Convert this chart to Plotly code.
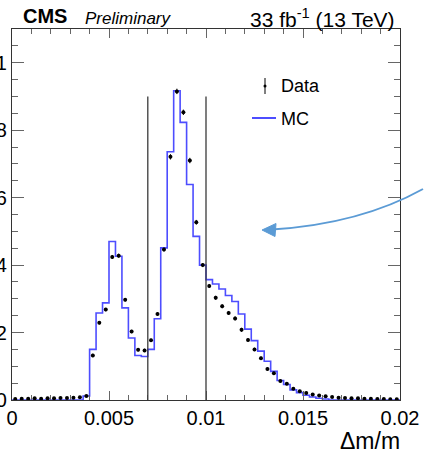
import numpy as np
import plotly.graph_objects as go

# Binning: 60 bins of relative mass difference between 0 and 0.02
x_min, x_max, n_bins = 0.0, 0.02, 60

data_counts = [
    0.003, 0.004, 0.004, 0.005, 0.004, 0.005, 0.005, 0.006, 0.006, 0.007,
    0.008, 0.012, 0.132, 0.229, 0.268, 0.424, 0.428, 0.297, 0.203, 0.149,
    0.147, 0.177, 0.255, 0.446, 0.721, 0.915, 0.853, 0.710, 0.527, 0.400,
    0.338, 0.303, 0.278, 0.258, 0.242, 0.208, 0.178, 0.150, 0.124, 0.092,
    0.079, 0.056, 0.048, 0.033, 0.026, 0.021, 0.016, 0.013, 0.011, 0.009,
    0.007, 0.006, 0.005, 0.005, 0.004, 0.004, 0.003, 0.003, 0.002, 0.002,
]
data_errors = [
    0.002, 0.002, 0.002, 0.002, 0.002, 0.002, 0.002, 0.002, 0.002, 0.002,
    0.002, 0.003, 0.005, 0.005, 0.005, 0.006, 0.006, 0.005, 0.005, 0.005,
    0.005, 0.005, 0.005, 0.006, 0.008, 0.008, 0.008, 0.008, 0.007, 0.006,
    0.006, 0.006, 0.006, 0.006, 0.006, 0.006, 0.005, 0.005, 0.005, 0.005,
    0.005, 0.004, 0.004, 0.004, 0.004, 0.004, 0.003, 0.003, 0.003, 0.003,
    0.003, 0.002, 0.002, 0.002, 0.002, 0.002, 0.002, 0.002, 0.002, 0.002,
]
mc_counts = [
    0.0, 0.0, 0.0, 0.0, 0.0, 0.0, 0.0, 0.0, 0.0, 0.0,
    0.0, 0.012, 0.150, 0.258, 0.288, 0.470, 0.426, 0.273, 0.184, 0.132,
    0.129, 0.150, 0.241, 0.451, 0.736, 0.917, 0.823, 0.639, 0.485, 0.400,
    0.357, 0.344, 0.329, 0.310, 0.292, 0.255, 0.210, 0.176, 0.145, 0.115,
    0.085, 0.058, 0.046, 0.030, 0.022, 0.014, 0.009, 0.005, 0.003, 0.0,
    0.0, 0.0, 0.0, 0.0, 0.0, 0.0, 0.0, 0.0, 0.0, 0.0,
]
cut_edges = [0.007, 0.01]
cut_height = 0.9

x_ticks = [0, 0.005, 0.01, 0.015, 0.02]
x_ticktext = ["0", "0.005", "0.01", "0.015", "0.02"]
y_ticks = [0, 0.2, 0.4, 0.6, 0.8, 1.0]
y_ticktext = ["0", "0.2", "0.4", "0.6", "0.8", "1"]

edges = np.linspace(x_min, x_max, n_bins + 1)
centers = 0.5 * (edges[:-1] + edges[1:])

FONT = "Liberation Sans, Arial, Helvetica, sans-serif"
W, H = 426, 454
L, R, T, B = 12, 26, 29, 54
PW, PH = W - L - R, H - T - B


def px(x):
    return (x - L) / PW


def py(y):
    return (H - B - y) / PH


fig = go.Figure()

# MC prediction as a step histogram
fig.add_trace(go.Scatter(
    x=list(edges), y=list(mc_counts) + [mc_counts[-1]],
    mode="lines", line=dict(color="#4d4dff", width=1.6, shape="hv"),
    hoverinfo="skip", showlegend=False,
))

# Data points with statistical errors
fig.add_trace(go.Scatter(
    x=centers, y=data_counts, mode="markers",
    marker=dict(color="black", size=4),
    error_y=dict(type="data", array=data_errors, color="black",
                 thickness=1, width=0),
    showlegend=False,
))

shapes = []
for xc in cut_edges:
    shapes.append(dict(type="line", xref="x", yref="y", x0=xc, x1=xc,
                       y0=0, y1=cut_height,
                       line=dict(color="#3a3a3a", width=1.3)))

# Legend entries drawn by hand
shapes.append(dict(type="line", xref="paper", yref="paper",
                   x0=px(265), x1=px(265), y0=py(78), y1=py(94),
                   line=dict(color="black", width=1)))
shapes.append(dict(type="circle", xref="paper", yref="paper",
                   x0=px(263.5), x1=px(266.5), y0=py(87.5), y1=py(84.5),
                   fillcolor="black", line=dict(color="black", width=0)))
shapes.append(dict(type="line", xref="paper", yref="paper",
                   x0=px(252), x1=px(276), y0=py(118), y1=py(118),
                   line=dict(color="#4d4dff", width=2)))

# Curved pointer arrow
arrow_col = "#5b9bd5"
shapes.append(dict(
    type="path", xref="paper", yref="paper",
    path=f"M {px(423)},{py(189)} Q {px(360)},{py(224)} {px(272)},{py(229.5)}",
    line=dict(color=arrow_col, width=2),
))
shapes.append(dict(
    type="path", xref="paper", yref="paper",
    path=(f"M {px(262)},{py(230)} L {px(276)},{py(223.5)} "
          f"L {px(275)},{py(236.5)} Z"),
    fillcolor=arrow_col, line=dict(color=arrow_col, width=1),
))

annotations = [
    dict(text="<b>CMS</b>", x=px(21), y=py(16), xanchor="left",
         yanchor="middle", font=dict(size=20, family=FONT, color="black")),
    dict(text="<i>Preliminary</i>", x=px(83), y=py(19), xanchor="left",
         yanchor="middle", font=dict(size=17, family=FONT, color="black")),
    dict(text="33 fb<sup>-1</sup> (13 TeV)", x=px(397), y=py(18),
         xanchor="right", yanchor="middle",
         font=dict(size=21, family=FONT, color="black")),
    dict(text="Data", x=px(279), y=py(86), xanchor="left", yanchor="middle",
         font=dict(size=18, family=FONT, color="black")),
    dict(text="MC", x=px(279), y=py(119), xanchor="left", yanchor="middle",
         font=dict(size=18, family=FONT, color="black")),
    dict(text="\u0394m/m", x=px(402), y=py(441), xanchor="right",
         yanchor="middle", font=dict(size=23, family=FONT, color="black")),
]
for a in annotations:
    a.update(xref="paper", yref="paper", showarrow=False)

axis_common = dict(
    showgrid=False, zeroline=False, showline=True, linecolor="#333",
    linewidth=1.2, mirror="allticks", ticks="inside", tickcolor="#666",
    tickwidth=1, automargin=False,
    tickfont=dict(size=20, family=FONT, color="black"),
)

fig.update_layout(
    width=W, height=H, template="none",
    margin=dict(l=L, r=R, t=T, b=B, pad=0),
    paper_bgcolor="white", plot_bgcolor="white",
    font=dict(family=FONT),
    xaxis=dict(range=[x_min, x_max], tickmode="array", tickvals=x_ticks,
               ticktext=x_ticktext, ticklen=9,
               minor=dict(dtick=0.001, tick0=0, ticks="inside", ticklen=5,
                          tickcolor="#666", tickwidth=1),
               **axis_common),
    yaxis=dict(range=[0, 1.1], tickmode="array", tickvals=y_ticks,
               ticktext=y_ticktext, ticklen=12,
               minor=dict(dtick=0.05, tick0=0, ticks="inside", ticklen=6,
                          tickcolor="#666", tickwidth=1),
               **axis_common),
    shapes=shapes,
    annotations=annotations,
    showlegend=False,
)

fig.write_html("out.html")
